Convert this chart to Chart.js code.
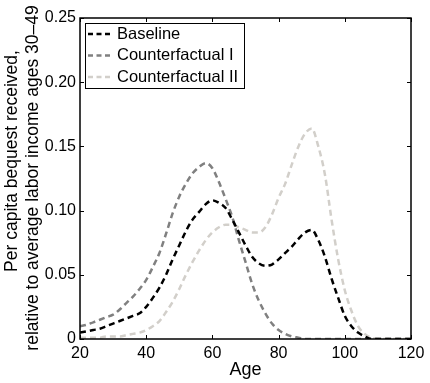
<!DOCTYPE html>
<html>
<head>
<meta charset="utf-8">
<script src="https://cdn.jsdelivr.net/npm/chart.js@4/dist/chart.umd.min.js"></script>
<style>
  html, body { margin: 0; padding: 0; background: #fff; }
  #wrap { width: 430px; height: 383px; }
</style>
</head>
<body>
<div id="wrap"><canvas id="myChart" width="430" height="383"></canvas></div>
<script>
// ages on the x axis
const ages = [20,22,24,26,28,30,32,34,36,38,40,42,44,46,48,50,52,54,56,58,60,62,64,66,68,70,
  72,74,76,78,80,82,84,86,88,90,92,94,96,98,100,102,104,106,108,110,112,114,116,118,120];

const baseline = [0.005,0.006,0.007,0.008,0.010,0.012,0.014,0.016,0.018,0.020,0.025,0.032,0.040,0.050,0.062,0.073,0.084,0.093,0.099,0.105,
  0.108,0.106,0.102,0.093,0.083,0.073,0.064,0.059,0.057,0.058,0.062,0.067,0.072,0.078,0.083,0.085,0.077,0.064,0.047,0.032,
  0.018,0.010,0.005,0.002,0,0,0,0,0,0,0];

const counterfactual1 = [0.010,0.011,0.013,0.015,0.017,0.019,0.023,0.028,0.033,0.039,0.046,0.056,0.067,0.082,0.098,0.111,0.121,0.129,0.134,0.137,
  0.133,0.122,0.109,0.095,0.077,0.060,0.043,0.030,0.020,0.012,0.007,0.004,0.002,0.001,0,0,0,0,0,0,
  0,0,0,0,0,0,0,0,0,0,0];

const counterfactual2 = [0.001,0.001,0.001,0.001,0.002,0.002,0.002,0.003,0.004,0.005,0.007,0.010,0.014,0.021,0.029,0.039,0.050,0.060,0.069,0.077,
  0.083,0.087,0.089,0.089,0.087,0.085,0.083,0.083,0.087,0.097,0.110,0.121,0.136,0.150,0.160,0.164,0.150,0.128,0.093,0.062,
  0.038,0.022,0.010,0.004,0.001,0,0,0,0,0,0];

const seriesNames = ['Baseline', 'Counterfactual I', 'Counterfactual II'];
const seriesColors = ['#000000', '#808080', '#d2cfca'];
const xTicks = [20, 40, 60, 80, 100, 120];
const yTicks = [0, 0.05, 0.10, 0.15, 0.20, 0.25];
const yTitle = ['Per capita bequest received,', 'relative to average labor income ages 30\u201349'];

const FONT = '"Liberation Sans", Arial, Helvetica, sans-serif';

function toPoints(vals){
    return ages.map(function(a, i){ return {x: a, y: vals[i]}; });
}

// box around plot, ticks pointing inward, y title and legend
const frame = {
    id: 'frame',
    afterDraw: function(chart){
        const ctx = chart.ctx;
        const a = chart.chartArea;
        const xs = chart.scales.x, ys = chart.scales.y;
        ctx.save();
        ctx.strokeStyle = '#000';
        ctx.lineWidth = 1.5;
        ctx.strokeRect(a.left, a.top, a.right - a.left, a.bottom - a.top);
        ctx.lineWidth = 1;
        ctx.beginPath();
        xTicks.forEach(function(v){
            const p = Math.round(xs.getPixelForValue(v)) + 0.5;
            ctx.moveTo(p, a.bottom); ctx.lineTo(p, a.bottom - 4);
            ctx.moveTo(p, a.top); ctx.lineTo(p, a.top + 4);
        });
        yTicks.forEach(function(v){
            const p = Math.round(ys.getPixelForValue(v)) + 0.5;
            ctx.moveTo(a.left, p); ctx.lineTo(a.left + 4, p);
            ctx.moveTo(a.right, p); ctx.lineTo(a.right - 4, p);
        });
        ctx.stroke();

        // y title, two lines
        ctx.fillStyle = '#000';
        ctx.font = '17.5px ' + FONT;
        ctx.textAlign = 'center';
        ctx.textBaseline = 'middle';
        ctx.save(); ctx.translate(12, 161); ctx.rotate(-Math.PI/2); ctx.fillText(yTitle[0], 0, 0); ctx.restore();
        ctx.save(); ctx.translate(33, 178); ctx.rotate(-Math.PI/2); ctx.fillText(yTitle[1], 0, 0); ctx.restore();

        // legend
        const lx = a.left + 5, ly = a.top + 5, lw = 159, lh = 65;
        ctx.fillStyle = '#fff';
        ctx.fillRect(lx, ly, lw, lh);
        ctx.strokeStyle = '#000';
        ctx.lineWidth = 1;
        ctx.strokeRect(lx + 0.5, ly + 0.5, lw, lh);
        ctx.font = '16.5px ' + FONT;
        ctx.textAlign = 'left';
        chart.data.datasets.forEach(function(ds, i){
            const y = ly + 11 + i * 21.5;
            ctx.strokeStyle = ds.borderColor;
            ctx.lineWidth = 2.5;
            ctx.setLineDash([5, 3.5]);
            ctx.beginPath(); ctx.moveTo(lx + 3, y); ctx.lineTo(lx + 28, y); ctx.stroke();
            ctx.setLineDash([]);
            ctx.fillStyle = '#000';
            ctx.fillText(ds.label, lx + 32, y);
        });
        ctx.restore();
    }
};

let ctx = document.getElementById('myChart');
let myChart = new Chart(ctx, {
    type: 'line',
    data: {
        datasets: seriesNames.map(function(name, i){
            return {
                label: name,
                data: toPoints([baseline, counterfactual1, counterfactual2][i]),
                borderColor: seriesColors[i],
                borderWidth: 2.5,
                borderDash: [6, 4],
                pointRadius: 0,
                fill: false,
                cubicInterpolationMode: 'monotone'
            };
        })
    },
    options: {
        responsive: false,
        animation: false,
        devicePixelRatio: 1,
        layout: { padding: { top: 18, right: 19, left: 0, bottom: 0 } },
        plugins: { legend: { display: false }, tooltip: { enabled: false } },
        scales: {
            x: {
                type: 'linear', min: 20, max: 120,
                afterBuildTicks: function(s){ s.ticks = xTicks.map(function(v){ return {value: v}; }); },
                afterFit: function(s){ s.height = 44; },
                grid: { display: false, drawTicks: false },
                border: { display: false },
                ticks: { color: '#000', font: { family: FONT, size: 16 }, padding: 5, maxRotation: 0, autoSkip: false },
                title: { display: true, text: 'Age', color: '#000', font: { family: FONT, size: 18 }, padding: { top: 0, bottom: 2 } }
            },
            y: {
                type: 'linear', min: 0, max: 0.25,
                afterBuildTicks: function(s){ s.ticks = yTicks.map(function(v){ return {value: v}; }); },
                afterFit: function(s){ s.width = 80; },
                grid: { display: false, drawTicks: false },
                border: { display: false },
                ticks: {
                    color: '#000', font: { family: FONT, size: 16 }, padding: 4,
                    callback: function(v){ return v === 0 ? '0' : v.toFixed(2); }
                }
            }
        }
    },
    plugins: [frame]
});
</script>
</body>
</html>
